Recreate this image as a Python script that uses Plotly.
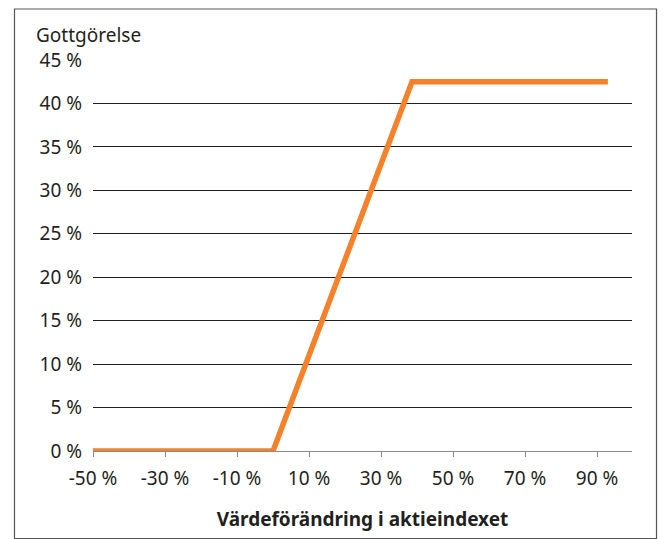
import plotly.graph_objects as go

# Data
index_change = [-50, 0, 38.6, 93]          # Värdeförändring i aktieindexet (%)
payout = [0, 0, 42.5, 42.5]                 # Gottgörelse (%)

x_tick_vals = [-50, -30, -10, 10, 30, 50, 70, 90]
x_tick_text = ["-50 %", "-30 %", "-10 %", "10 %", "30 %", "50 %", "70 %", "90 %"]
y_tick_vals = [0, 5, 10, 15, 20, 25, 30, 35, 40, 45]
y_tick_text = ["0 %", "5 %", "10 %", "15 %", "20 %", "25 %", "30 %", "35 %", "40 %", "45 %"]

W, H = 665, 539
L, R, T, B = 93, 33, 60, 88
FONT = "Noto Sans"
FS = 19
TXT = "#231f20"

fig = go.Figure()
fig.add_trace(go.Scatter(
    x=index_change, y=payout, mode="lines",
    line=dict(color="#f5822a", width=5.5),
    hoverinfo="skip", showlegend=False,
))

pw = W - L - R
ph = H - T - B
def px(xp):
    return (xp - L) / pw
def py(yp):
    return (H - B - yp) / ph

fig.update_layout(
    width=W, height=H,
    margin=dict(l=L, r=R, t=T, b=B),
    paper_bgcolor="white", plot_bgcolor="white",
    font=dict(family=FONT, size=FS, color=TXT),
    xaxis=dict(
        range=[-50, 99.7], tickvals=x_tick_vals, ticktext=x_tick_text,
        showgrid=False, zeroline=False,
        showline=True, linecolor="#8a8a8a", linewidth=1.3,
        ticks="outside", ticklen=5, tickcolor="#8a8a8a", tickwidth=1.3,
        ticklabelstandoff=5,
        tickfont=dict(family=FONT, size=FS, color=TXT),
        title=dict(text="<b>Värdeförändring i aktieindexet</b>",
                   font=dict(family=FONT, size=FS, color=TXT), standoff=22),
        fixedrange=True,
    ),
    yaxis=dict(
        range=[0, 45], tickvals=y_tick_vals, ticktext=y_tick_text,
        showgrid=True, gridcolor="#1e1e1e", gridwidth=1,
        zeroline=False, showline=False, ticks="",
        ticklabelstandoff=10,
        tickfont=dict(family=FONT, size=FS, color=TXT),
        fixedrange=True,
    ),
    shapes=[dict(type="rect", xref="paper", yref="paper",
                 x0=px(14.5), x1=px(656.5), y0=py(538.5), y1=py(9),
                 line=dict(color="#555555", width=1.2), fillcolor="rgba(0,0,0,0)",
                 layer="below")],
    annotations=[dict(text="Gottgörelse", xref="paper", yref="paper",
                      x=px(34), y=py(35), xanchor="left", yanchor="middle",
                      showarrow=False, font=dict(family=FONT, size=FS, color=TXT))],
)

fig.write_html("out.html", config={"displayModeBar": False},
               post_script="document.body.style.margin='0';")
